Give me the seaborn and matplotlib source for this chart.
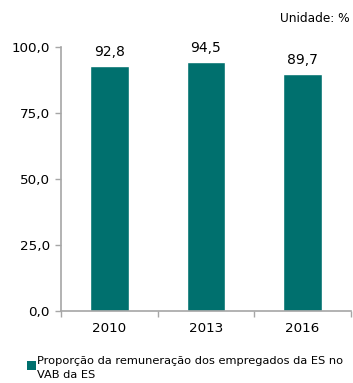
import matplotlib
matplotlib.use("Agg")
import matplotlib.pyplot as plt
import seaborn as sns
import pandas as pd
from matplotlib.ticker import FixedLocator
from matplotlib.patches import Rectangle

years = ["2010", "2013", "2016"]
values = [92.8, 94.5, 89.7]
series_label = "Proporção da remuneração dos empregados da ES no\nVAB da ES"
unit_label = "Unidade: %"

sns.set_theme(style="white")
plt.rcParams["font.family"] = ["DejaVu Sans"]

teal = "#00706E"
grey = "#A6A6A6"

df = pd.DataFrame({"ano": years, "valor": values})

fig = plt.figure(figsize=(3.53, 3.83), dpi=100)
ax = fig.add_axes([0.173, 0.188, 0.821, 0.689])

sns.barplot(data=df, x="ano", y="valor", color=teal, width=0.4,
            saturation=1, ax=ax)

ax.set_ylim(0, 100)
ax.set_xlim(-0.5, 2.5)
ax.set_yticks([0, 25, 50, 75, 100])
ax.set_yticklabels([f"{v:.1f}".replace(".", ",") for v in [0, 25, 50, 75, 100]],
                   fontsize=9.7, color="black")
ax.set_xlabel("")
ax.set_ylabel("")
ax.tick_params(axis="x", which="major", length=0, labelsize=9.7,
               labelcolor="black", pad=8)
ax.tick_params(axis="y", which="major", left=True, length=4, width=1,
               color=grey, direction="out", pad=4)
ax.xaxis.set_minor_locator(FixedLocator([-0.5, 0.5, 1.5, 2.5]))
ax.tick_params(axis="x", which="minor", length=4, width=1, color=grey,
               direction="out", bottom=True)

for side in ["top", "right"]:
    ax.spines[side].set_visible(False)
for side in ["left", "bottom"]:
    ax.spines[side].set_color(grey)
    ax.spines[side].set_linewidth(1.2)

for bar, v in zip(ax.patches, values):
    ax.annotate(f"{v:.1f}".replace(".", ","),
                (bar.get_x() + bar.get_width() / 2, bar.get_height()),
                xytext=(0, 5), textcoords="offset points",
                ha="center", va="bottom", fontsize=10, color="black")

fig.text(0.99, 0.951, unit_label, ha="right", va="center",
         fontsize=8.7, color="black")

# legend entry: colour swatch plus wrapped label
fig.patches.append(Rectangle((27 / 353, 1 - 370 / 383), 9 / 353, 9 / 383,
                             transform=fig.transFigure, facecolor=teal,
                             edgecolor="none"))
fig.text(37 / 353, 1 - 356 / 383, series_label, ha="left", va="top",
         fontsize=8.2, color="black", linespacing=1.55)

fig.savefig("out.png", dpi=100)
